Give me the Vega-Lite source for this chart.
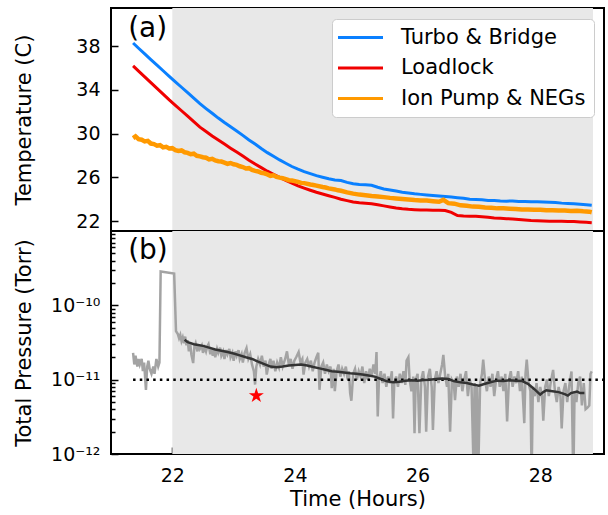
{
  "$schema": "https://vega.github.io/schema/vega-lite/v6.json",
  "background": "white",
  "padding": {"left": 12, "top": 7, "right": 3, "bottom": 5},
  "spacing": 0,
  "bounds": "flush",
  "datasets": {
    "shade": [{"start": 22.0, "end": 28.86}],
    "threshold": [{"from": 21.36, "to": 29.04, "level": 1e-11}],
    "star": [{"time": 23.37, "p": 6.1e-12}],
    "turbo": [
      {"time":21.36,"temp":38.3},{"time":21.45,"temp":37.82},{"time":21.55,"temp":37.3},{"time":21.65,"temp":36.78},{"time":21.75,"temp":36.27},{"time":21.85,"temp":35.76},{"time":21.95,"temp":35.25},{"time":22.05,"temp":34.75},{"time":22.15,"temp":34.25},{"time":22.25,"temp":33.75},{"time":22.35,"temp":33.25},{"time":22.45,"temp":32.75},{"time":22.55,"temp":32.3},{"time":22.65,"temp":31.87},{"time":22.75,"temp":31.43},{"time":22.85,"temp":31.02},{"time":22.95,"temp":30.63},{"time":23.05,"temp":30.25},{"time":23.15,"temp":29.85},{"time":23.25,"temp":29.43},{"time":23.35,"temp":29.05},{"time":23.45,"temp":28.65},{"time":23.55,"temp":28.27},{"time":23.65,"temp":27.93},{"time":23.75,"temp":27.6},{"time":23.85,"temp":27.3},{"time":23.95,"temp":27.0},{"time":24.05,"temp":26.75},{"time":24.15,"temp":26.53},{"time":24.25,"temp":26.35},{"time":24.35,"temp":26.17},{"time":24.45,"temp":26.02},{"time":24.55,"temp":25.88},{"time":24.65,"temp":25.77},{"time":24.75,"temp":25.72},{"time":24.85,"temp":25.55},{"time":24.95,"temp":25.42},{"time":25.05,"temp":25.36},{"time":25.15,"temp":25.32},{"time":25.25,"temp":25.28},{"time":25.35,"temp":25.1},{"time":25.45,"temp":24.95},{"time":25.55,"temp":24.85},{"time":25.65,"temp":24.75},{"time":25.75,"temp":24.65},{"time":25.85,"temp":24.58},{"time":25.95,"temp":24.5},{"time":26.05,"temp":24.45},{"time":26.15,"temp":24.4},{"time":26.25,"temp":24.35},{"time":26.35,"temp":24.3},{"time":26.45,"temp":24.25},{"time":26.55,"temp":24.2},{"time":26.65,"temp":24.15},{"time":26.75,"temp":24.1},{"time":26.85,"temp":24.0},{"time":26.95,"temp":23.98},{"time":27.05,"temp":23.95},{"time":27.15,"temp":23.9},{"time":27.25,"temp":23.9},{"time":27.35,"temp":23.85},{"time":27.45,"temp":23.83},{"time":27.55,"temp":23.85},{"time":27.65,"temp":23.8},{"time":27.75,"temp":23.8},{"time":27.85,"temp":23.78},{"time":27.95,"temp":23.77},{"time":28.05,"temp":23.75},{"time":28.15,"temp":23.72},{"time":28.25,"temp":23.7},{"time":28.35,"temp":23.65},{"time":28.45,"temp":23.62},{"time":28.55,"temp":23.6},{"time":28.65,"temp":23.55},{"time":28.75,"temp":23.5},{"time":28.84,"temp":23.45}
    ],
    "loadlock": [
      {"time":21.36,"temp":36.2},{"time":21.45,"temp":35.72},{"time":21.55,"temp":35.2},{"time":21.65,"temp":34.67},{"time":21.75,"temp":34.15},{"time":21.85,"temp":33.63},{"time":21.95,"temp":33.1},{"time":22.05,"temp":32.6},{"time":22.15,"temp":32.1},{"time":22.25,"temp":31.6},{"time":22.35,"temp":31.1},{"time":22.45,"temp":30.6},{"time":22.55,"temp":30.2},{"time":22.65,"temp":29.8},{"time":22.75,"temp":29.42},{"time":22.85,"temp":29.05},{"time":22.95,"temp":28.68},{"time":23.05,"temp":28.32},{"time":23.15,"temp":27.95},{"time":23.25,"temp":27.58},{"time":23.35,"temp":27.23},{"time":23.45,"temp":26.9},{"time":23.55,"temp":26.57},{"time":23.65,"temp":26.28},{"time":23.75,"temp":26.0},{"time":23.85,"temp":25.73},{"time":23.95,"temp":25.47},{"time":24.05,"temp":25.22},{"time":24.15,"temp":25.02},{"time":24.25,"temp":24.83},{"time":24.35,"temp":24.65},{"time":24.45,"temp":24.49},{"time":24.55,"temp":24.33},{"time":24.65,"temp":24.18},{"time":24.75,"temp":24.0},{"time":24.85,"temp":23.88},{"time":24.95,"temp":23.76},{"time":25.05,"temp":23.68},{"time":25.15,"temp":23.64},{"time":25.25,"temp":23.6},{"time":25.35,"temp":23.5},{"time":25.45,"temp":23.4},{"time":25.55,"temp":23.3},{"time":25.65,"temp":23.2},{"time":25.75,"temp":23.13},{"time":25.85,"temp":23.08},{"time":25.95,"temp":23.05},{"time":26.05,"temp":23.03},{"time":26.15,"temp":23.02},{"time":26.25,"temp":23.0},{"time":26.35,"temp":23.0},{"time":26.45,"temp":22.98},{"time":26.55,"temp":22.8},{"time":26.65,"temp":22.52},{"time":26.75,"temp":22.48},{"time":26.85,"temp":22.46},{"time":26.95,"temp":22.45},{"time":27.05,"temp":22.4},{"time":27.15,"temp":22.35},{"time":27.25,"temp":22.3},{"time":27.35,"temp":22.27},{"time":27.45,"temp":22.23},{"time":27.55,"temp":22.2},{"time":27.65,"temp":22.15},{"time":27.75,"temp":22.1},{"time":27.85,"temp":22.05},{"time":27.95,"temp":22.03},{"time":28.05,"temp":22.02},{"time":28.15,"temp":22.0},{"time":28.25,"temp":22.0},{"time":28.35,"temp":22.0},{"time":28.45,"temp":21.98},{"time":28.55,"temp":21.97},{"time":28.65,"temp":21.93},{"time":28.75,"temp":21.9},{"time":28.84,"temp":21.86}
    ],
    "ionpump": [
      {"time":21.36,"temp":29.6},{"time":21.40,"temp":29.75},{"time":21.45,"temp":29.5},{"time":21.50,"temp":29.45},{"time":21.55,"temp":29.3},{"time":21.60,"temp":29.35},{"time":21.65,"temp":29.1},{"time":21.70,"temp":29.05},{"time":21.75,"temp":28.9},{"time":21.80,"temp":28.95},{"time":21.85,"temp":28.75},{"time":21.90,"temp":28.8},{"time":21.95,"temp":28.65},{"time":22.00,"temp":28.68},{"time":22.05,"temp":28.5},{"time":22.10,"temp":28.42},{"time":22.15,"temp":28.47},{"time":22.20,"temp":28.3},{"time":22.25,"temp":28.25},{"time":22.30,"temp":28.12},{"time":22.35,"temp":28.17},{"time":22.40,"temp":27.98},{"time":22.45,"temp":27.93},{"time":22.50,"temp":27.85},{"time":22.55,"temp":27.8},{"time":22.60,"temp":27.65},{"time":22.65,"temp":27.7},{"time":22.70,"temp":27.55},{"time":22.75,"temp":27.48},{"time":22.80,"temp":27.45},{"time":22.85,"temp":27.36},{"time":22.90,"temp":27.25},{"time":22.95,"temp":27.32},{"time":23.00,"temp":27.2},{"time":23.05,"temp":27.15},{"time":23.10,"temp":27.02},{"time":23.15,"temp":26.95},{"time":23.20,"temp":26.82},{"time":23.25,"temp":26.85},{"time":23.30,"temp":26.68},{"time":23.35,"temp":26.6},{"time":23.40,"temp":26.55},{"time":23.45,"temp":26.43},{"time":23.50,"temp":26.38},{"time":23.55,"temp":26.28},{"time":23.60,"temp":26.15},{"time":23.65,"temp":26.2},{"time":23.70,"temp":26.05},{"time":23.75,"temp":25.98},{"time":23.80,"temp":25.93},{"time":23.85,"temp":25.85},{"time":23.90,"temp":25.75},{"time":23.95,"temp":25.72},{"time":24.05,"temp":25.6},{"time":24.10,"temp":25.5},{"time":24.15,"temp":25.48},{"time":24.25,"temp":25.35},{"time":24.30,"temp":25.3},{"time":24.35,"temp":25.25},{"time":24.45,"temp":25.12},{"time":24.50,"temp":25.08},{"time":24.55,"temp":25.0},{"time":24.65,"temp":24.9},{"time":24.70,"temp":24.82},{"time":24.75,"temp":24.78},{"time":24.85,"temp":24.63},{"time":24.95,"temp":24.52},{"time":25.05,"temp":24.43},{"time":25.15,"temp":24.37},{"time":25.25,"temp":24.3},{"time":25.35,"temp":24.25},{"time":25.45,"temp":24.2},{"time":25.55,"temp":24.13},{"time":25.65,"temp":24.08},{"time":25.75,"temp":24.03},{"time":25.85,"temp":23.98},{"time":25.95,"temp":23.93},{"time":26.05,"temp":23.9},{"time":26.15,"temp":23.88},{"time":26.25,"temp":23.83},{"time":26.35,"temp":23.78},{"time":26.42,"temp":23.95},{"time":26.50,"temp":23.65},{"time":26.60,"temp":23.6},{"time":26.70,"temp":23.45},{"time":26.80,"temp":23.4},{"time":26.90,"temp":23.33},{"time":27.00,"temp":23.32},{"time":27.10,"temp":23.25},{"time":27.20,"temp":23.22},{"time":27.30,"temp":23.17},{"time":27.40,"temp":23.17},{"time":27.50,"temp":23.14},{"time":27.60,"temp":23.12},{"time":27.70,"temp":23.07},{"time":27.80,"temp":23.07},{"time":27.90,"temp":23.05},{"time":28.00,"temp":23.05},{"time":28.10,"temp":23.0},{"time":28.20,"temp":23.0},{"time":28.30,"temp":22.97},{"time":28.40,"temp":22.97},{"time":28.50,"temp":22.93},{"time":28.60,"temp":22.95},{"time":28.70,"temp":22.9},{"time":28.80,"temp":22.87},{"time":28.84,"temp":22.82}
    ],
    "pressure": [
      {"time":21.36,"p":2.3e-11},{"time":21.38,"p":1.6e-11},{"time":21.40,"p":2.1e-11},{"time":21.43,"p":1.5e-11},{"time":21.45,"p":1.9e-11},{"time":21.47,"p":1.6e-11},{"time":21.50,"p":1.9e-11},{"time":21.52,"p":1.3e-11},{"time":21.54,"p":1.7e-11},{"time":21.57,"p":0.73e-11},{"time":21.59,"p":1.5e-11},{"time":21.61,"p":1.8e-11},{"time":21.63,"p":1.4e-11},{"time":21.66,"p":1.2e-11},{"time":21.69,"p":1.5e-11},{"time":21.71,"p":1.2e-11},{"time":21.74,"p":1.9e-11},{"time":21.77,"p":1.5e-11},{"time":21.79,"p":1.7e-11},{"time":21.81,"p":2.86e-10},{"time":22.03,"p":2.67e-10},{"time":22.06,"p":4.5e-11},{"time":22.09,"p":4.1e-11},{"time":22.11,"p":3.6e-11},{"time":22.13,"p":4.0e-11},{"time":22.15,"p":3.3e-11},{"time":22.17,"p":3.7e-11},{"time":22.19,"p":3.1e-11},{"time":22.21,"p":3.8e-11},{"time":22.23,"p":2.9e-11},{"time":22.25,"p":3.4e-11},{"time":22.27,"p":2.4e-11},{"time":22.29,"p":3.2e-11},{"time":22.31,"p":2.2e-11},{"time":22.34,"p":1.67e-11},{"time":22.36,"p":2.8e-11},{"time":22.38,"p":3.1e-11},{"time":22.41,"p":2.4e-11},{"time":22.43,"p":3.0e-11},{"time":22.45,"p":2.6e-11},{"time":22.48,"p":2.9e-11},{"time":22.50,"p":2.3e-11},{"time":22.53,"p":2.7e-11},{"time":22.55,"p":2.4e-11},{"time":22.57,"p":2.8e-11},{"time":22.59,"p":3.0e-11},{"time":22.62,"p":2.2e-11},{"time":22.64,"p":2.6e-11},{"time":22.66,"p":2.1e-11},{"time":22.68,"p":2.5e-11},{"time":22.70,"p":2.0e-11},{"time":22.73,"p":2.6e-11},{"time":22.75,"p":2.3e-11},{"time":22.78,"p":2.7e-11},{"time":22.80,"p":2.1e-11},{"time":22.83,"p":2.4e-11},{"time":22.85,"p":1.9e-11},{"time":22.88,"p":2.5e-11},{"time":22.90,"p":2.2e-11},{"time":22.93,"p":2.6e-11},{"time":22.95,"p":2.0e-11},{"time":22.98,"p":2.3e-11},{"time":23.00,"p":1.8e-11},{"time":23.03,"p":2.4e-11},{"time":23.05,"p":2.1e-11},{"time":23.08,"p":2.5e-11},{"time":23.10,"p":1.9e-11},{"time":23.13,"p":2.2e-11},{"time":23.15,"p":1.7e-11},{"time":23.18,"p":2.3e-11},{"time":23.21,"p":2.66e-11},{"time":23.24,"p":1.9e-11},{"time":23.27,"p":2.2e-11},{"time":23.30,"p":1.59e-11},{"time":23.33,"p":1.3e-11},{"time":23.35,"p":0.86e-11},{"time":23.37,"p":1.5e-11},{"time":23.40,"p":1.9e-11},{"time":23.43,"p":1.6e-11},{"time":23.46,"p":2.1e-11},{"time":23.49,"p":1.5e-11},{"time":23.52,"p":1.8e-11},{"time":23.54,"p":1.17e-11},{"time":23.57,"p":1.6e-11},{"time":23.60,"p":1.9e-11},{"time":23.62,"p":1.4e-11},{"time":23.65,"p":1.8e-11},{"time":23.68,"p":1.3e-11},{"time":23.71,"p":1.7e-11},{"time":23.74,"p":1.45e-11},{"time":23.77,"p":2.0e-11},{"time":23.80,"p":1.5e-11},{"time":23.84,"p":1.9e-11},{"time":23.87,"p":2.4e-11},{"time":23.90,"p":1.6e-11},{"time":23.93,"p":1.9e-11},{"time":23.96,"p":1.4e-11},{"time":23.99,"p":1.8e-11},{"time":24.02,"p":2.0e-11},{"time":24.06,"p":2.35e-11},{"time":24.09,"p":1.7e-11},{"time":24.12,"p":1.9e-11},{"time":24.14,"p":1.17e-11},{"time":24.17,"p":1.7e-11},{"time":24.20,"p":1.9e-11},{"time":24.23,"p":1.5e-11},{"time":24.26,"p":1.8e-11},{"time":24.29,"p":1.3e-11},{"time":24.32,"p":1.7e-11},{"time":24.35,"p":2.0e-11},{"time":24.38,"p":2.3e-11},{"time":24.40,"p":0.73e-11},{"time":24.43,"p":1.5e-11},{"time":24.46,"p":1.7e-11},{"time":24.49,"p":1.2e-11},{"time":24.52,"p":1.6e-11},{"time":24.55,"p":1.3e-11},{"time":24.58,"p":1.5e-11},{"time":24.60,"p":0.77e-11},{"time":24.63,"p":1.4e-11},{"time":24.65,"p":0.7e-11},{"time":24.68,"p":1.3e-11},{"time":24.71,"p":1.6e-11},{"time":24.74,"p":1.1e-11},{"time":24.77,"p":1.4e-11},{"time":24.80,"p":1.2e-11},{"time":24.83,"p":1.5e-11},{"time":24.86,"p":1.0e-11},{"time":24.88,"p":1.3e-11},{"time":24.90,"p":0.66e-11},{"time":24.92,"p":0.52e-11},{"time":24.95,"p":1.2e-11},{"time":24.98,"p":1.4e-11},{"time":25.01,"p":1.0e-11},{"time":25.04,"p":1.3e-11},{"time":25.07,"p":1.1e-11},{"time":25.10,"p":1.5e-11},{"time":25.13,"p":0.9e-11},{"time":25.16,"p":1.3e-11},{"time":25.19,"p":1.0e-11},{"time":25.22,"p":1.4e-11},{"time":25.25,"p":1.1e-11},{"time":25.28,"p":1.6e-11},{"time":25.31,"p":1.2e-11},{"time":25.33,"p":2.35e-11},{"time":25.35,"p":0.32e-11},{"time":25.37,"p":1.0e-11},{"time":25.40,"p":1.3e-11},{"time":25.43,"p":0.9e-11},{"time":25.46,"p":1.2e-11},{"time":25.49,"p":0.8e-11},{"time":25.52,"p":1.1e-11},{"time":25.55,"p":0.9e-11},{"time":25.58,"p":1.3e-11},{"time":25.60,"p":0.30e-11},{"time":25.62,"p":0.9e-11},{"time":25.65,"p":1.1e-11},{"time":25.68,"p":0.8e-11},{"time":25.71,"p":1.2e-11},{"time":25.74,"p":0.9e-11},{"time":25.77,"p":1.3e-11},{"time":25.80,"p":0.85e-11},{"time":25.82,"p":1.8e-11},{"time":25.85,"p":2.0e-11},{"time":25.87,"p":1.0e-11},{"time":25.90,"p":0.7e-11},{"time":25.93,"p":1.1e-11},{"time":25.95,"p":0.19e-11},{"time":25.97,"p":1.0e-11},{"time":26.00,"p":1.2e-11},{"time":26.03,"p":0.19e-11},{"time":26.06,"p":1.0e-11},{"time":26.09,"p":1.3e-11},{"time":26.12,"p":0.8e-11},{"time":26.14,"p":0.2e-11},{"time":26.17,"p":1.1e-11},{"time":26.20,"p":1.4e-11},{"time":26.23,"p":0.8e-11},{"time":26.25,"p":0.21e-11},{"time":26.28,"p":1.0e-11},{"time":26.31,"p":1.3e-11},{"time":26.34,"p":0.9e-11},{"time":26.37,"p":1.2e-11},{"time":26.40,"p":1.6e-11},{"time":26.42,"p":2.15e-11},{"time":26.45,"p":1.1e-11},{"time":26.48,"p":0.8e-11},{"time":26.50,"p":1.2e-11},{"time":26.53,"p":0.2e-11},{"time":26.56,"p":1.0e-11},{"time":26.59,"p":0.9e-11},{"time":26.61,"p":0.53e-11},{"time":26.64,"p":1.1e-11},{"time":26.67,"p":0.8e-11},{"time":26.70,"p":1.2e-11},{"time":26.73,"p":0.7e-11},{"time":26.76,"p":1.0e-11},{"time":26.79,"p":1.3e-11},{"time":26.82,"p":0.6e-11},{"time":26.85,"p":1.0e-11},{"time":26.88,"p":0.8e-11},{"time":26.91,"p":0.08e-11},{"time":26.93,"p":0.9e-11},{"time":26.95,"p":0.07e-11},{"time":26.97,"p":0.8e-11},{"time":26.99,"p":0.06e-11},{"time":27.02,"p":0.9e-11},{"time":27.05,"p":1.2e-11},{"time":27.07,"p":1.86e-11},{"time":27.10,"p":1.0e-11},{"time":27.13,"p":0.7e-11},{"time":27.16,"p":1.1e-11},{"time":27.19,"p":0.8e-11},{"time":27.22,"p":1.2e-11},{"time":27.25,"p":0.6e-11},{"time":27.28,"p":1.0e-11},{"time":27.31,"p":1.3e-11},{"time":27.34,"p":0.8e-11},{"time":27.37,"p":1.1e-11},{"time":27.40,"p":0.7e-11},{"time":27.43,"p":1.2e-11},{"time":27.46,"p":0.275e-11},{"time":27.49,"p":1.0e-11},{"time":27.52,"p":1.3e-11},{"time":27.55,"p":0.8e-11},{"time":27.58,"p":1.1e-11},{"time":27.61,"p":0.9e-11},{"time":27.64,"p":1.3e-11},{"time":27.67,"p":0.7e-11},{"time":27.70,"p":1.1e-11},{"time":27.74,"p":0.26e-11},{"time":27.76,"p":1.2e-11},{"time":27.78,"p":1.86e-11},{"time":27.81,"p":0.9e-11},{"time":27.84,"p":0.7e-11},{"time":27.86,"p":0.05e-11},{"time":27.88,"p":0.8e-11},{"time":27.91,"p":0.6e-11},{"time":27.94,"p":0.9e-11},{"time":27.97,"p":0.5e-11},{"time":28.00,"p":0.8e-11},{"time":28.03,"p":0.6e-11},{"time":28.05,"p":0.28e-11},{"time":28.08,"p":0.8e-11},{"time":28.11,"p":1.0e-11},{"time":28.14,"p":0.6e-11},{"time":28.17,"p":0.9e-11},{"time":28.21,"p":1.35e-11},{"time":28.24,"p":0.7e-11},{"time":28.27,"p":0.5e-11},{"time":28.30,"p":0.8e-11},{"time":28.33,"p":0.6e-11},{"time":28.35,"p":0.22e-11},{"time":28.38,"p":0.7e-11},{"time":28.41,"p":0.9e-11},{"time":28.44,"p":0.5e-11},{"time":28.47,"p":0.8e-11},{"time":28.51,"p":1.29e-11},{"time":28.54,"p":0.04e-11},{"time":28.56,"p":0.7e-11},{"time":28.59,"p":0.5e-11},{"time":28.62,"p":0.9e-11},{"time":28.65,"p":1.1e-11},{"time":28.68,"p":0.45e-11},{"time":28.71,"p":0.9e-11},{"time":28.74,"p":0.4e-11},{"time":28.77,"p":0.42e-11},{"time":28.80,"p":0.45e-11},{"time":28.82,"p":1.2e-11},{"time":28.84,"p":1.29e-11}
    ],
    "smooth": [
      {"time":22.20,"p":3.45e-11},{"time":22.25,"p":3.2e-11},{"time":22.30,"p":3.1e-11},{"time":22.35,"p":3.0e-11},{"time":22.40,"p":2.95e-11},{"time":22.50,"p":2.85e-11},{"time":22.60,"p":2.7e-11},{"time":22.70,"p":2.55e-11},{"time":22.80,"p":2.45e-11},{"time":22.90,"p":2.35e-11},{"time":23.00,"p":2.25e-11},{"time":23.10,"p":2.12e-11},{"time":23.20,"p":2.0e-11},{"time":23.30,"p":1.9e-11},{"time":23.40,"p":1.75e-11},{"time":23.50,"p":1.62e-11},{"time":23.60,"p":1.5e-11},{"time":23.70,"p":1.47e-11},{"time":23.80,"p":1.5e-11},{"time":23.90,"p":1.55e-11},{"time":24.00,"p":1.58e-11},{"time":24.10,"p":1.6e-11},{"time":24.20,"p":1.55e-11},{"time":24.30,"p":1.48e-11},{"time":24.40,"p":1.42e-11},{"time":24.50,"p":1.36e-11},{"time":24.60,"p":1.3e-11},{"time":24.70,"p":1.28e-11},{"time":24.80,"p":1.25e-11},{"time":24.90,"p":1.22e-11},{"time":25.00,"p":1.2e-11},{"time":25.10,"p":1.17e-11},{"time":25.20,"p":1.14e-11},{"time":25.30,"p":1.1e-11},{"time":25.40,"p":1.02e-11},{"time":25.50,"p":0.95e-11},{"time":25.60,"p":0.92e-11},{"time":25.70,"p":0.94e-11},{"time":25.80,"p":0.97e-11},{"time":25.90,"p":0.98e-11},{"time":26.00,"p":0.97e-11},{"time":26.10,"p":0.99e-11},{"time":26.20,"p":1.0e-11},{"time":26.30,"p":1.02e-11},{"time":26.40,"p":1.04e-11},{"time":26.50,"p":1.02e-11},{"time":26.60,"p":0.95e-11},{"time":26.70,"p":0.92e-11},{"time":26.80,"p":0.9e-11},{"time":26.90,"p":0.86e-11},{"time":27.00,"p":0.83e-11},{"time":27.10,"p":0.88e-11},{"time":27.20,"p":0.93e-11},{"time":27.30,"p":0.97e-11},{"time":27.40,"p":0.96e-11},{"time":27.50,"p":0.98e-11},{"time":27.60,"p":0.97e-11},{"time":27.70,"p":0.96e-11},{"time":27.80,"p":0.88e-11},{"time":27.90,"p":0.75e-11},{"time":28.00,"p":0.63e-11},{"time":28.05,"p":0.68e-11},{"time":28.10,"p":0.72e-11},{"time":28.20,"p":0.7e-11},{"time":28.30,"p":0.68e-11},{"time":28.40,"p":0.64e-11},{"time":28.45,"p":0.61e-11},{"time":28.50,"p":0.66e-11},{"time":28.60,"p":0.69e-11},{"time":28.65,"p":0.66e-11},{"time":28.72,"p":0.66e-11}
    ]
  },
  "vconcat": [
    {
      "width": 493,
      "height": 223,
      "layer": [
        {
          "data": {"name": "shade"},
          "mark": {"type": "rect", "color": "#e8e8e8"},
          "encoding": {
            "x": {"field": "start", "type": "quantitative", "scale": {"domain": [21.0, 29.04], "nice": false, "zero": false}, "axis": null},
            "x2": {"field": "end"}
          }
        },
        {
          "data": {"name": "turbo"},
          "mark": {"type": "line", "strokeWidth": 3, "clip": true},
          "encoding": {
            "x": {"field": "time", "type": "quantitative", "axis": null},
            "y": {"field": "temp", "type": "quantitative", "scale": {"domain": [21.1, 41.5], "nice": false, "zero": false}, "axis": {"values": [22, 26, 30, 34, 38], "title": "Temperature (C)"}},
            "color": {
              "datum": "Turbo & Bridge", "type": "nominal",
              "scale": {"domain": ["Turbo & Bridge", "Loadlock", "Ion Pump & NEGs"], "range": ["#0a80ff", "#f00000", "#ff9900"]},
              "legend": {
                "orient": "none", "legendX": 221, "legendY": 11, "title": null,
                "labelFontSize": 21, "labelFont": "DejaVu Sans", "labelColor": "black", "labelLimit": 400,
                "symbolType": "M-2.5,0H2.5", "symbolSize": 324, "symbolStrokeWidth": 3,
                "rowPadding": 8.5, "padding": 8, "symbolOffset": 10, "labelOffset": 30,
                "fillColor": "white", "strokeColor": "#cccccc", "cornerRadius": 4
              }
            }
          }
        },
        {
          "data": {"name": "loadlock"},
          "mark": {"type": "line", "strokeWidth": 3, "clip": true},
          "encoding": {
            "x": {"field": "time", "type": "quantitative", "axis": null},
            "y": {"field": "temp", "type": "quantitative"},
            "color": {"datum": "Loadlock", "type": "nominal"}
          }
        },
        {
          "data": {"name": "ionpump"},
          "mark": {"type": "line", "strokeWidth": 4.5, "clip": true},
          "encoding": {
            "x": {"field": "time", "type": "quantitative", "axis": null},
            "y": {"field": "temp", "type": "quantitative"},
            "color": {"datum": "Ion Pump & NEGs", "type": "nominal"}
          }
        },
        {
          "data": {"values": [{}]},
          "mark": {"type": "text", "text": "(a)", "fontSize": 28, "font": "DejaVu Sans", "align": "left", "baseline": "alphabetic", "color": "black"},
          "encoding": {
            "x": {"datum": 21.28, "type": "quantitative", "axis": null},
            "y": {"datum": 38.86, "type": "quantitative"}
          }
        }
      ]
    },
    {
      "width": 493,
      "height": 223,
      "layer": [
        {
          "data": {"name": "shade"},
          "mark": {"type": "rect", "color": "#e8e8e8"},
          "encoding": {
            "x": {"field": "start", "type": "quantitative", "scale": {"domain": [21.0, 29.04], "nice": false, "zero": false}, "axis": {"values": [22, 24, 26, 28], "format": "d", "title": "Time (Hours)"}},
            "x2": {"field": "end"}
          }
        },
        {
          "data": {"name": "pressure"},
          "mark": {"type": "line", "color": "#a3a3a3", "strokeWidth": 2.5, "clip": true},
          "encoding": {
            "x": {"field": "time", "type": "quantitative"},
            "y": {
              "field": "p", "type": "quantitative",
              "scale": {"type": "log", "domain": [1e-12, 1e-9], "nice": false},
              "axis": {"orient": "left", "values": [1e-12, 1e-11, 1e-10], "title": "Total Pressure (Torr)",
                "labelExpr": "datum.value < 5e-12 ? '10⁻¹²' : (datum.value < 5e-11 ? '10⁻¹¹' : '10⁻¹⁰')"}
            }
          }
        },
        {
          "data": {"name": "threshold"},
          "mark": {"type": "rule", "color": "black", "strokeWidth": 2.5, "strokeDash": [2.5, 4.2], "clip": true},
          "encoding": {
            "x": {"field": "from", "type": "quantitative"},
            "x2": {"field": "to"},
            "y": {"field": "level", "type": "quantitative", "axis": null}
          }
        },
        {
          "data": {"name": "smooth"},
          "mark": {"type": "line", "color": "#333333", "strokeWidth": 2.5, "clip": true},
          "encoding": {
            "x": {"field": "time", "type": "quantitative"},
            "y": {"field": "p", "type": "quantitative", "axis": null}
          }
        },
        {
          "data": {"name": "star"},
          "mark": {"type": "point", "shape": "M0,-1L0.2245,-0.309L0.951,-0.309L0.363,0.118L0.588,0.809L0,0.382L-0.588,0.809L-0.363,0.118L-0.951,-0.309L-0.2245,-0.309Z", "filled": true, "color": "#ff0000", "opacity": 1, "size": 250},
          "encoding": {
            "x": {"field": "time", "type": "quantitative"},
            "y": {"field": "p", "type": "quantitative",
              "axis": {"orient": "left", "values": [2e-12, 3e-12, 4e-12, 5e-12, 6e-12, 7e-12, 8e-12, 9e-12, 2e-11, 3e-11, 4e-11, 5e-11, 6e-11, 7e-11, 8e-11, 9e-11, 2e-10, 3e-10, 4e-10, 5e-10, 6e-10, 7e-10, 8e-10, 9e-10],
                "labels": false, "tickSize": -4, "title": null, "domain": false}}
          }
        },
        {
          "data": {"values": [{}]},
          "mark": {"type": "text", "text": "(b)", "fontSize": 28, "font": "DejaVu Sans", "align": "left", "baseline": "alphabetic", "color": "black"},
          "encoding": {
            "x": {"datum": 21.28, "type": "quantitative"},
            "y": {"datum": 4.25e-10, "type": "quantitative", "axis": null}
          }
        }
      ],
      "resolve": {"axis": {"y": "independent"}}
    }
  ],
  "config": {
    "font": "DejaVu Sans",
    "view": {"stroke": "black", "strokeWidth": 2},
    "axis": {
      "grid": false, "domain": false, "tickColor": "black", "tickWidth": 1.5, "tickSize": -7,
      "labelColor": "black", "titleColor": "black", "labelFont": "DejaVu Sans", "titleFont": "DejaVu Sans",
      "labelFontSize": 19, "titleFontSize": 21, "titleFontWeight": "normal", "zindex": 1
    },
    "axisY": {"labelPadding": 18, "minExtent": 64, "maxExtent": 64, "titlePadding": 13},
    "axisX": {"labelPadding": 19, "titlePadding": 3}
  }
}
